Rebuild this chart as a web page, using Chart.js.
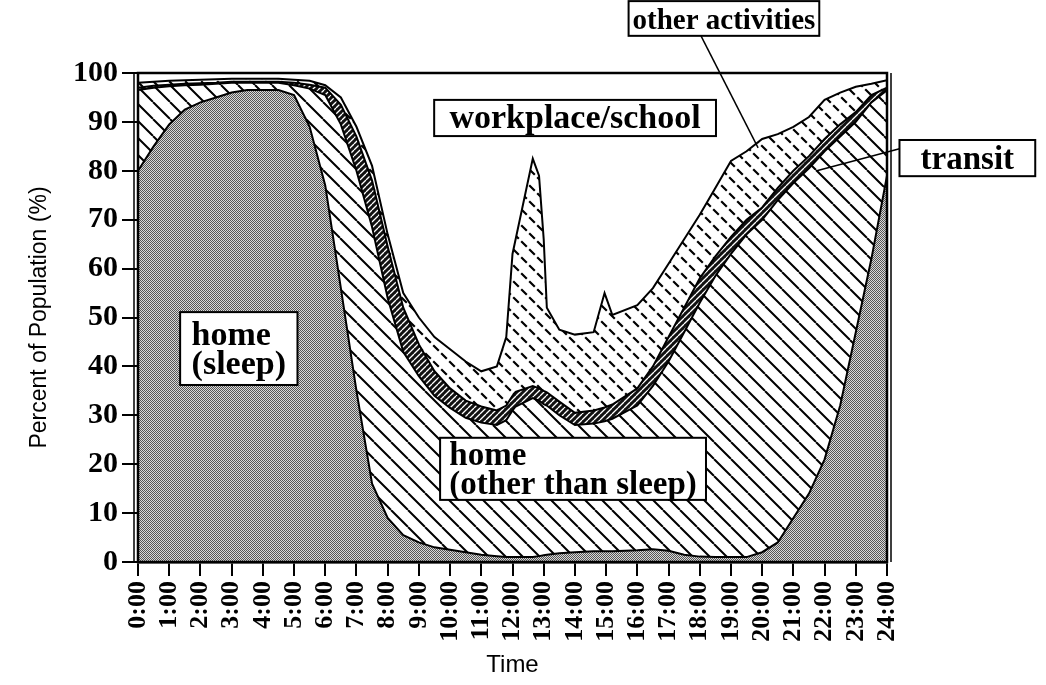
<!DOCTYPE html>
<html>
<head>
<meta charset="utf-8">
<title>Percent of Population by Activity over the Day</title>
<script src="https://cdn.jsdelivr.net/npm/chart.js@4.4.1/dist/chart.umd.min.js"></script>
<style>
  html, body { margin: 0; padding: 0; background: #fff; }
  #wrap { width: 1046px; height: 685px; }
</style>
</head>
<body>
<div id="wrap"><canvas id="chart" width="1046" height="685"></canvas></div>
<script>
// hour of day at which each value was read
const HOURS = [0, 0.5, 1, 1.5, 2, 2.5, 3, 3.5, 4, 4.5, 5, 5.5, 6, 6.5, 7, 7.5, 8, 8.5, 9, 9.5,
  10, 10.5, 11, 11.5, 11.8, 12, 12.1, 12.65, 12.85, 13, 13.1, 13.5, 14, 14.6, 14.95, 15.2,
  16, 16.5, 17, 17.5, 18, 18.5, 19, 19.5, 20, 20.5, 21, 21.5, 22, 22.5, 23, 23.5, 24];

// percent of population in each place (stacked, sums to 100)
const HOME_SLEEP = [80, 85, 89.5, 92.5, 94, 95, 96, 96.5, 96.5, 96.5, 95.5, 89, 77, 56, 35, 16, 9, 5.5, 4, 3,
  2.5, 2, 1.5, 1.2, 1, 1, 1, 1, 1.2, 1.4, 1.5, 1.8, 2, 2.2, 2.2, 2.2,
  2.4, 2.6, 2.3, 1.5, 1.1, 1, 1, 1, 2, 4, 9, 14, 21, 32, 47, 62, 79];
const HOME_OTHER = [16.5, 12, 7.8, 5, 3.6, 2.8, 2, 1.5, 1.5, 1.5, 2, 7.8, 18.5, 33.5, 45, 52.5, 45, 37.5, 34, 31,
  29, 27.5, 27, 26.8, 28, 30, 30.8, 32.5, 31.8, 30.9, 30.5, 28.2, 26, 26.1, 26.6, 27.1,
  29.6, 33.4, 38.7, 45.5, 51.9, 57.5, 62, 66, 68, 70, 68.5, 66.5, 63, 55, 43, 32, 17.5];
const TRANSIT = [0.5, 0.4, 0.3, 0.3, 0.3, 0.2, 0.2, 0.2, 0.2, 0.2, 0.5, 0.8, 1.5, 4, 7, 9.5, 10.5, 9, 6.5, 5,
  4, 3.5, 3.3, 3, 3, 3, 3, 2.5, 2.5, 2.7, 2.7, 2.8, 2.5, 2.7, 2.8, 2.9,
  3.5, 4, 5, 5, 5, 4, 3.5, 3, 2.5, 2.5, 2.5, 2.5, 2.5, 2.5, 2, 1.5, 0.5];
const OTHER_ACTIVITIES = [1, 0.8, 0.8, 0.7, 0.7, 0.7, 0.6, 0.6, 0.6, 0.6, 0.6, 0.8, 0.5, 1.5, 2, 3, 2.5, 3, 5.5, 7,
  8, 8, 7.2, 9, 14, 29, 31.2, 46.5, 43.5, 31, 17.3, 14.7, 16, 16, 23.4, 18.3,
  17, 16, 15, 14, 13, 14, 15.5, 14, 14, 11, 9, 8, 8, 6.5, 5.2, 2.3, 1.5];
const WORKPLACE_SCHOOL = [2, 1.8, 1.6, 1.5, 1.4, 1.3, 1.2, 1.2, 1.2, 1.2, 1.4, 1.6, 2.5, 5, 11, 19, 33, 45, 50, 54,
  56.5, 59, 61, 60, 54, 37, 34, 17.5, 21, 34, 48, 52.5, 53.5, 53, 45, 49.5,
  47.5, 44, 39, 34, 29, 23.5, 18, 16, 13.5, 12.5, 11, 9, 5.5, 4, 2.8, 2.2, 1.5];

const TIME_LABELS = ['0:00', '1:00', '2:00', '3:00', '4:00', '5:00', '6:00', '7:00', '8:00', '9:00',
  '10:00', '11:00', '12:00', '13:00', '14:00', '15:00', '16:00', '17:00', '18:00', '19:00',
  '20:00', '21:00', '22:00', '23:00', '24:00'];

// boxed area labels, placed in data units (hours, percent)
const AREA_LABELS = [
  { lines: ['workplace/school'], x: [9.49, 18.52], y: [94.5, 87.1], size: 34 },
  { lines: ['other activities'], x: [15.72, 21.83], y: [114.7, 107.6], size: 29 },
  { lines: ['transit'], x: [24.4, 28.75], y: [86.3, 78.9], size: 33 },
  { lines: ['home', '(sleep)'], x: [1.35, 5.11], y: [51.1, 36.2], size: 34 },
  { lines: ['home', '(other than sleep)'], x: [9.68, 18.2], y: [25.4, 12.7], size: 33 }
];
const LEADER_LINES = [
  { from: [18.04, 107.6], to: [19.87, 84.7] },
  { from: [24.4, 84.5], to: [21.75, 80] }
];

const SERIF = "'Liberation Serif', 'Times New Roman', serif";
const SANS = "'Liberation Sans', Arial, sans-serif";

const canvas = document.getElementById('chart');
const ctx = canvas.getContext('2d');

function makePattern(size, draw) {
    const tile = document.createElement('canvas');
    tile.width = size;
    tile.height = size;
    const g = tile.getContext('2d');
    draw(g, size);
    return ctx.createPattern(tile, 'repeat');
}

// gray stipple for sleep
const stipple = makePattern(2, (g) => {
    g.fillStyle = '#d8d8d8';
    g.fillRect(0, 0, 2, 2);
    g.fillStyle = '#555';
    g.fillRect(0, 0, 1, 1);
    g.fillRect(1, 1, 1, 1);
});

// wide diagonal hatch for home (other than sleep)
const hatch = makePattern(17, (g, s) => {
    g.fillStyle = '#fff';
    g.fillRect(0, 0, s, s);
    g.strokeStyle = '#000';
    g.lineWidth = 2;
    g.beginPath();
    [-s, 0, s].forEach(k => { g.moveTo(k, 0); g.lineTo(k + s, s); });
    g.stroke();
});

// dark narrow stripes for transit
const stripes = makePattern(6, (g, s) => {
    g.fillStyle = '#111';
    g.fillRect(0, 0, s, s);
    g.strokeStyle = '#fff';
    g.lineWidth = 1.3;
    g.beginPath();
    [-s, 0, s].forEach(k => { g.moveTo(k, s); g.lineTo(k + s, 0); });
    g.stroke();
});

// short dashes for other activities
const dashes = makePattern(16, (g) => {
    g.fillStyle = '#fff';
    g.fillRect(0, 0, 16, 16);
    g.strokeStyle = '#000';
    g.lineWidth = 2.2;
    g.beginPath();
    [[4, 12], [12, 4]].forEach(([cx, cy]) => {
        g.moveTo(cx - 2.8, cy - 2.8);
        g.lineTo(cx + 2.8, cy + 2.8);
    });
    g.stroke();
});

const SERIES = [
    { label: 'home (sleep)', values: HOME_SLEEP, fill: 'origin', bg: stipple },
    { label: 'home (other than sleep)', values: HOME_OTHER, fill: '-1', bg: hatch },
    { label: 'transit', values: TRANSIT, fill: '-1', bg: stripes },
    { label: 'other activities', values: OTHER_ACTIVITIES, fill: '-1', bg: dashes },
    { label: 'workplace/school', values: WORKPLACE_SCHOOL, fill: '-1', bg: '#fff' }
];

const datasets = SERIES.map(s => ({
    label: s.label,
    data: HOURS.map((h, i) => ({ x: h, y: s.values[i] })),
    fill: s.fill,
    backgroundColor: s.bg,
    borderColor: '#000',
    borderWidth: 2,
    pointRadius: 0,
    tension: 0
}));

// frame, leader lines and boxed labels
const decorPlugin = {
    id: 'decor',
    afterDraw(chart) {
        const { ctx: c, chartArea: a, scales: { x, y } } = chart;
        c.save();
        c.strokeStyle = '#000';
        c.lineWidth = 2.5;
        c.strokeRect(a.left, a.top, a.right - a.left, a.bottom - a.top);
        c.lineWidth = 1.5;
        c.beginPath();
        c.moveTo(a.left - 4, a.top);
        c.lineTo(a.left - 4, a.bottom);
        c.moveTo(a.right + 4, a.top);
        c.lineTo(a.right + 4, a.bottom);
        c.stroke();

        LEADER_LINES.forEach(l => {
            c.beginPath();
            c.moveTo(x.getPixelForValue(l.from[0]), y.getPixelForValue(l.from[1]));
            c.lineTo(x.getPixelForValue(l.to[0]), y.getPixelForValue(l.to[1]));
            c.stroke();
        });

        c.textBaseline = 'alphabetic';
        c.textAlign = 'left';
        AREA_LABELS.forEach(lab => {
            const x0 = x.getPixelForValue(lab.x[0]);
            const x1 = x.getPixelForValue(lab.x[1]);
            const y0 = y.getPixelForValue(lab.y[0]);
            const y1 = y.getPixelForValue(lab.y[1]);
            c.fillStyle = '#fff';
            c.fillRect(x0, y0, x1 - x0, y1 - y0);
            c.lineWidth = 2;
            c.strokeRect(x0, y0, x1 - x0, y1 - y0);
            c.fillStyle = '#000';
            c.font = 'bold ' + lab.size + 'px ' + SERIF;
            const blockW = Math.max(...lab.lines.map(t => c.measureText(t).width));
            const lineH = 29;
            const tx = (x0 + x1 - blockW) / 2;
            const ty = y0 + (y1 - y0 - lab.lines.length * lineH) / 2 + 25;
            lab.lines.forEach((t, i) => c.fillText(t, tx, ty + i * lineH));
        });
        c.restore();
    }
};

new Chart(ctx, {
    type: 'line',
    data: { datasets },
    options: {
        responsive: false,
        animation: false,
        devicePixelRatio: 1,
        layout: { padding: { top: 73, right: 159, left: 0, bottom: 0 } },
        plugins: {
            legend: { display: false },
            tooltip: { enabled: false }
        },
        scales: {
            x: {
                type: 'linear',
                min: 0,
                max: 24,
                afterFit: s => { s.height = 123; },
                ticks: {
                    stepSize: 1,
                    autoSkip: false,
                    minRotation: 90,
                    maxRotation: 90,
                    padding: 5,
                    color: '#000',
                    font: { family: SERIF, size: 26, weight: 'bold' },
                    callback: v => TIME_LABELS[v]
                },
                grid: { drawOnChartArea: false, drawTicks: true, tickLength: 14, color: '#000', lineWidth: 2 },
                border: { display: true, color: '#000', width: 2.5 },
                title: {
                    display: true,
                    text: 'Time',
                    color: '#000',
                    font: { family: SANS, size: 24 },
                    padding: { top: 0, bottom: 5 }
                }
            },
            y: {
                stacked: true,
                min: 0,
                max: 100,
                afterFit: s => { s.width = 138; },
                ticks: {
                    stepSize: 10,
                    padding: 4,
                    color: '#000',
                    font: { family: SERIF, size: 30, weight: 'bold' }
                },
                grid: { drawOnChartArea: false, drawTicks: true, tickLength: 16, color: '#000', lineWidth: 2 },
                border: { display: true, color: '#000', width: 2.5 },
                title: {
                    display: true,
                    text: 'Percent of Population (%)',
                    color: '#000',
                    font: { family: SANS, size: 23 },
                    padding: { top: 26, bottom: 0 }
                }
            }
        }
    },
    plugins: [decorPlugin]
});
</script>
</body>
</html>
